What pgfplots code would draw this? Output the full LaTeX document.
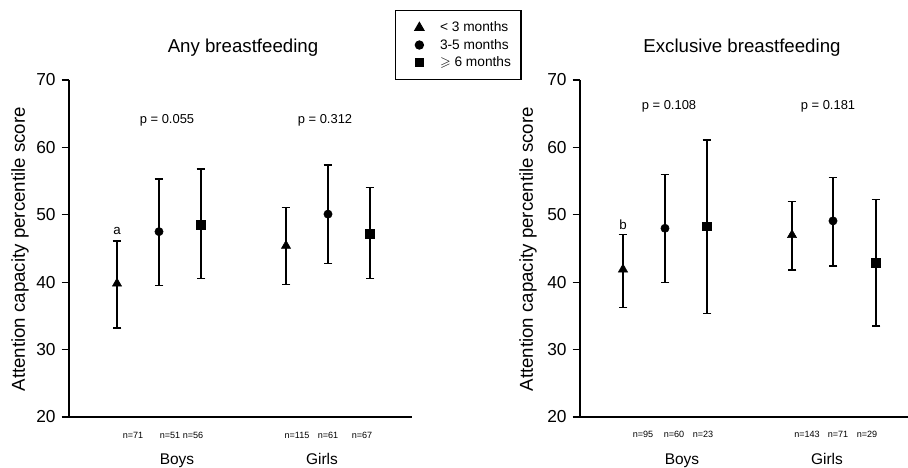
\documentclass[border=0pt]{standalone}
\usepackage{amssymb}
\usepackage{fontspec}
\setmainfont{Liberation Sans}
\usepackage{pgfplots}
\pgfplotsset{compat=1.18}

\tikzset{
  nlab/.style={font=\fontsize{6.8}{8}\selectfont},
  plab/.style={font=\fontsize{9.7}{11}\selectfont, anchor=base},
  glab/.style={font=\fontsize{11.6}{13}\selectfont, anchor=base},
  tlab/.style={font=\fontsize{14}{16}\selectfont},
}

% one tikz unit = one pixel of the 908x468 reference (0.75pt)
\pgfplotsset{
  panel/.style={
    scale only axis,
    height=252.75pt,
    ymin=20, ymax=70,
    ytick={20,30,40,50,60,70},
    xtick=\empty,
    axis x line*=bottom,
    axis y line*=left,
    axis line style={line width=1pt, black},
    tick style={line width=1pt, black},
    major tick length=5.5pt,
    tick align=outside,
    /pgf/number format/assume math mode=true,
    yticklabel style={font=\fontsize{13}{15}\selectfont, xshift=-1pt},
    clip=false,
  },
  pts/.style={
    only marks, black,
    error bars/y dir=both, error bars/y explicit,
    error bars/error bar style={line width=0.9pt, black},
    error bars/error mark options={rotate=90, mark size=3.2pt, line width=0.9pt, black},
  },
}

% x  y  plus  minus   (x in pixel offsets from the y axis)
\pgfplotstableread{
x   y    ep   em
48  39.8 6.3  6.6
217 45.4 5.7  5.7
}\anyTri
\pgfplotstableread{
x   y    ep   em
90  47.5 7.8  8.0
259 50.1 7.3  7.3
}\anyCirc
\pgfplotstableread{
x   y    ep   em
132 48.5 8.3  8.0
301 47.2 6.8  6.7
}\anySq
\pgfplotstableread{
x   y    ep   em
43  41.9 5.2  5.6
212 47.0 5.0  5.2
}\exTri
\pgfplotstableread{
x   y    ep   em
85  48.0 8.0  8.0
253 49.1 6.4  6.7
}\exCirc
\pgfplotstableread{
x   y    ep   em
127 48.3 12.8 12.9
296 42.9 9.4  9.4
}\exSq

\begin{document}
\begin{tikzpicture}
\useasboundingbox (0,0) rectangle (681pt,351pt);

% ---- Any breastfeeding
\begin{axis}[panel,
  at={(51.75pt,38.25pt)}, anchor=south west,
  width=257.25pt, xmin=0, xmax=343,
  legend style={at={(0.950,1.208)}, anchor=north west,
    draw=black, line width=0.8pt,
    font=\fontsize{10.3}{12}\selectfont,
    nodes={inner sep=1pt},
    inner xsep=6.5pt, inner ysep=7.5pt, row sep=2pt,
    /tikz/every odd column/.append style={column sep=11pt}},
  legend cell align=left,
  legend image code/.code={%
    \path[draw=none, fill=none] (-11.5pt,0) -- (0pt,0);
    \draw[#1] plot coordinates {(0pt,0pt)};},
]
\addplot[pts, mark=triangle*, mark size=4pt] table[y error plus=ep, y error minus=em] {\anyTri};
\addlegendentry{< 3 months}
\addplot[pts, mark=*, mark size=3.1pt] table[y error plus=ep, y error minus=em] {\anyCirc};
\addlegendentry{3-5 months}
\addplot[pts, mark=square*, mark size=3.2pt] table[y error plus=ep, y error minus=em] {\anySq};
\addlegendentry{$\geqslant$ 6 months}

\node[tlab, anchor=base] at (axis cs:174,74.15) {Any breastfeeding};
\node[tlab, rotate=90] at (axis cs:-49,44.9) {Attention capacity percentile score};
\node[plab] at (axis cs:98,63.6) {p = 0.055};
\node[plab] at (axis cs:256,63.6) {p = 0.312};
\node[font=\fontsize{10}{12}\selectfont] at (axis cs:48,47.6) {a};
\node[nlab] at (axis cs:64,17.3) {n=71};
\node[nlab] at (axis cs:101,17.3) {n=51};
\node[nlab] at (axis cs:124,17.3) {n=56};
\node[nlab] at (axis cs:228,17.3) {n=115};
\node[nlab] at (axis cs:259,17.3) {n=61};
\node[nlab] at (axis cs:293,17.3) {n=67};
\node[glab] at (axis cs:108,12.9) {Boys};
\node[glab] at (axis cs:253,12.9) {Girls};
\end{axis}

% ---- Exclusive breastfeeding
\begin{axis}[panel,
  at={(435pt,38.25pt)}, anchor=south west,
  width=246pt, xmin=0, xmax=328,
]
\addplot[pts, mark=triangle*, mark size=4pt] table[y error plus=ep, y error minus=em] {\exTri};
\addplot[pts, mark=*, mark size=3.1pt] table[y error plus=ep, y error minus=em] {\exCirc};
\addplot[pts, mark=square*, mark size=3.2pt] table[y error plus=ep, y error minus=em] {\exSq};

\node[tlab, anchor=base] at (axis cs:162,74.15) {Exclusive breastfeeding};
\node[tlab, rotate=90] at (axis cs:-52,44.9) {Attention capacity percentile score};
\node[plab] at (axis cs:89,65.6) {p = 0.108};
\node[plab] at (axis cs:248,65.6) {p = 0.181};
\node[font=\fontsize{10}{12}\selectfont] at (axis cs:43,48.6) {b};
\node[nlab] at (axis cs:63,17.4) {n=95};
\node[nlab] at (axis cs:94,17.4) {n=60};
\node[nlab] at (axis cs:123,17.4) {n=23};
\node[nlab] at (axis cs:227,17.4) {n=143};
\node[nlab] at (axis cs:258,17.4) {n=71};
\node[nlab] at (axis cs:287,17.4) {n=29};
\node[glab] at (axis cs:102,12.9) {Boys};
\node[glab] at (axis cs:247,12.9) {Girls};
\end{axis}
\end{tikzpicture}
\end{document}
